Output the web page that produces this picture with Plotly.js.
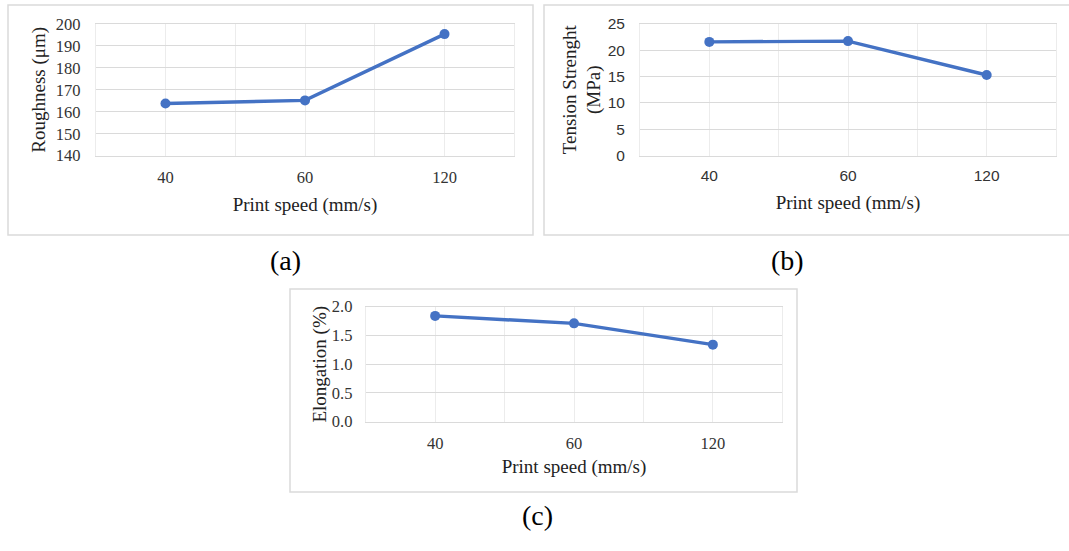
<!DOCTYPE html>
<html>
<head>
<meta charset="utf-8">
<script src="https://cdn.plot.ly/plotly-3.0.1.min.js"></script>
<style>html,body{margin:0;padding:0;background:#fff;}#chart{width:1069px;height:551px;}</style>
</head>
<body>
<div id="chart"></div>
<script>
// ---- data ----
const speeds = ['40', '60', '120'];
const roughness = [163.8, 165.2, 195.4];
const tension = [21.6, 21.75, 15.3];
const elongation = [1.84, 1.71, 1.34];

const xTitle = 'Print speed (mm/s)';
const roughTitle = 'Roughness (μm)';
const tensionTitle = 'Tension Strenght<br>(MPa)';
const elongTitle = 'Elongation (%)';
const panelLabels = ['(a)', '(b)', '(c)'];

// ---- layout helpers ----
const W = 1069, H = 551;
const px = v => v / W;
const py = v => 1 - v / H;
const BLUE = '#4472C4';
const GRID = '#dadada';
const VGRID = '#ececec';
const SERIF = '"Liberation Serif", "DejaVu Serif", serif';
const SANS = '"Liberation Sans", Arial, sans-serif';

const xpos = speeds.map((s, i) => i);
const xtv = [], xtt = [];
for (let i = 0; i < speeds.length; i++) {
  xtv.push(i - 0.5); xtt.push('');
  xtv.push(i); xtt.push(speeds[i]);
}
xtv.push(speeds.length - 0.5); xtt.push('');

function trace(y, xa, ya) {
  return {
    x: xpos, y: y, xaxis: xa, yaxis: ya, type: 'scatter', mode: 'lines+markers',
    line: {color: BLUE, width: 3.4}, marker: {color: BLUE, size: 10}, hoverinfo: 'y'
  };
}

function xAxis(domain, anchor, tickfont, st) {
  return {
    domain: domain, anchor: anchor, type: 'linear', range: [-0.5, speeds.length - 0.5],
    tickmode: 'array', tickvals: xtv, ticktext: xtt, ticks: '',
    showgrid: true, gridcolor: VGRID, gridwidth: 1, zeroline: false,
    showline: true, linecolor: GRID, linewidth: 1, mirror: true, fixedrange: true,
    ticklabelstandoff: 6,
    tickfont: tickfont,
    title: {text: xTitle, font: {family: SERIF, size: 19, color: '#222'}, standoff: st}
  };
}
function yAxis(domain, anchor, range, dtick, title, tickfont, fmt, lab, st) {
  return {
    domain: domain, anchor: anchor, range: range, dtick: dtick, tick0: range[0],
    showgrid: true, gridcolor: GRID, gridwidth: 1, zeroline: false, ticks: '',
    showline: true, linecolor: VGRID, linewidth: 1, mirror: true, fixedrange: true,
    tickformat: fmt || '', ticklabelstandoff: lab,
    tickfont: tickfont,
    title: {text: title, font: {family: SERIF, size: 19, color: '#222'}, standoff: st}
  };
}

const data = [
  trace(roughness, 'x', 'y'),
  trace(tension, 'x2', 'y2'),
  trace(elongation, 'x3', 'y3')
];

const serifTick = {family: SERIF, size: 16.5, color: '#333'};
const sansTick = {family: SANS, size: 15.5, color: '#333'};

const layout = {
  width: W, height: H,
  margin: {l: 0, r: 0, t: 0, b: 0},
  paper_bgcolor: '#fff', plot_bgcolor: '#fff',
  showlegend: false,
  xaxis: xAxis([px(95.7), px(514.3)], 'y', serifTick, 12),
  yaxis: yAxis([py(155.7), py(24)], 'x', [140, 200], 10, roughTitle, serifTick, '', 11, 4),
  xaxis2: xAxis([px(640), px(1056)], 'y2', sansTick, 12),
  yaxis2: yAxis([py(155.5), py(24)], 'x2', [0, 25], 5, tensionTitle, sansTick, '', 11, 1),
  xaxis3: xAxis([px(365.7), px(782.3)], 'y3', serifTick, 8),
  yaxis3: yAxis([py(421.7), py(306.7)], 'x3', [0, 2], 0.5, elongTitle, serifTick, '.1f', 9, 0),
  shapes: [
    {type: 'rect', xref: 'paper', yref: 'paper', x0: px(8), x1: px(533), y0: py(235), y1: py(5), line: {color: GRID, width: 1.5}, layer: 'below'},
    {type: 'rect', xref: 'paper', yref: 'paper', x0: px(544), x1: px(1075), y0: py(235), y1: py(5), line: {color: GRID, width: 1.5}, layer: 'below'},
    {type: 'rect', xref: 'paper', yref: 'paper', x0: px(290), x1: px(797), y0: py(492), y1: py(289), line: {color: GRID, width: 1.5}, layer: 'below'}
  ],
  annotations: [
    {text: panelLabels[0], xref: 'paper', yref: 'paper', x: px(268), y: py(260), showarrow: false, font: {family: SERIF, size: 28, color: '#000'}},
    {text: panelLabels[1], xref: 'paper', yref: 'paper', x: px(806), y: py(260), showarrow: false, font: {family: SERIF, size: 28, color: '#000'}},
    {text: panelLabels[2], xref: 'paper', yref: 'paper', x: px(537), y: py(533), showarrow: false, font: {family: SERIF, size: 28, color: '#000'}}
  ]
};

Plotly.newPlot('chart', data, layout, {staticPlot: true, displayModeBar: false});
</script>
</body>
</html>
